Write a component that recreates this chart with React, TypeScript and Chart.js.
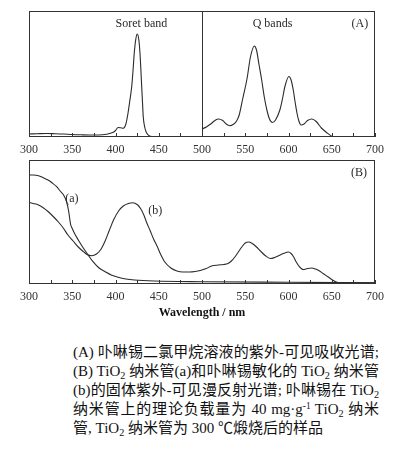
import React, { useEffect, useRef } from "react";
import { Chart, registerables } from "chart.js";

Chart.register(...registerables);

// ---------- data (wavelength in nm, absorbance in arbitrary units) ----------
const soretWl = [300, 310, 320, 330, 340, 350, 360, 370, 380, 390, 394, 398, 400, 403, 406, 409, 412, 414.5, 416.5, 418.7, 420.3, 421.7, 423.5, 425.2, 427, 428.3, 429.3, 430.3, 431.2, 432.1, 434, 436, 439, 442, 450, 470, 500];
const soretAbs = [0.03, 0.033, 0.035, 0.033, 0.03, 0.025, 0.022, 0.02, 0.02, 0.028, 0.037, 0.05, 0.065, 0.095, 0.092, 0.088, 0.13, 0.24, 0.36, 0.5, 0.67, 0.84, 0.98, 1.03, 0.97, 0.84, 0.68, 0.5, 0.35, 0.2, 0.09, 0.04, 0.012, 0.004, 0.002, 0.002, 0.002];

const qWl = [500, 505, 510, 515, 519, 524, 528, 532, 536, 540, 543, 547, 552, 556, 560.5, 563, 566, 569, 572, 575, 578, 581.5, 585, 590, 593, 596, 600.5, 603, 605.5, 608, 610, 612, 614.5, 618, 622, 627, 632, 638, 644, 650, 655, 670, 700];
const qAbs = [0.08, 0.1, 0.13, 0.165, 0.18, 0.165, 0.13, 0.113, 0.125, 0.16, 0.22, 0.38, 0.58, 0.8, 0.91, 0.87, 0.72, 0.57, 0.4, 0.27, 0.18, 0.145, 0.17, 0.27, 0.38, 0.51, 0.605, 0.57, 0.47, 0.33, 0.23, 0.16, 0.12, 0.13, 0.165, 0.18, 0.155, 0.09, 0.045, 0.008, 0.002, 0, 0];

const tubeWl = [300, 305, 311, 316, 322, 327, 332, 336, 340, 343.5, 346, 348, 350, 353, 357, 362, 367, 374, 381, 388, 395, 403, 412, 422, 445, 500, 600, 700];
const tubeAbs = [1.09, 1.09, 1.083, 1.065, 1.04, 1.01, 0.973, 0.93, 0.89, 0.82, 0.72, 0.6, 0.555, 0.5, 0.44, 0.37, 0.307, 0.223, 0.16, 0.123, 0.09, 0.067, 0.05, 0.04, 0.03, 0.023, 0.017, 0.012];

const sensWl = [300, 305, 311, 316, 322, 328, 334, 340, 345, 351, 357, 362, 367, 372.5, 378, 383, 388, 393, 398, 404, 409, 415, 420, 425, 429, 433, 436, 440, 444, 448, 452, 457, 464, 471, 478, 486, 492, 498, 505, 511, 519, 525, 530, 534, 538, 542, 546, 550, 554, 558, 563, 567, 573, 579, 584, 588, 594, 600, 603, 606, 609, 612, 617, 622, 627, 631, 635, 640, 646, 652, 657, 662, 700];
const sensAbs = [0.815, 0.805, 0.79, 0.765, 0.725, 0.675, 0.62, 0.555, 0.49, 0.43, 0.37, 0.33, 0.295, 0.283, 0.3, 0.345, 0.43, 0.54, 0.645, 0.735, 0.78, 0.805, 0.812, 0.795, 0.755, 0.685, 0.615, 0.535, 0.45, 0.38, 0.3, 0.22, 0.16, 0.13, 0.12, 0.12, 0.125, 0.135, 0.155, 0.18, 0.19, 0.195, 0.205, 0.23, 0.27, 0.32, 0.37, 0.41, 0.42, 0.405, 0.37, 0.335, 0.285, 0.255, 0.265, 0.28, 0.305, 0.32, 0.305, 0.27, 0.22, 0.18, 0.145, 0.155, 0.16, 0.15, 0.135, 0.105, 0.07, 0.035, 0.015, 0.013, 0.012];

const xMin = 300;
const xMax = 700;
const xMajor = 50;
const xMinor = 25;

const SERIF = '"Liberation Serif", "Times New Roman", serif';
const LINE = "#2b2b2b";
const AXIS = "#333";

const toPts = (xs: number[], ys: number[]) => xs.map((x, i) => ({ x, y: ys[i] }));

const framePlugin = {
  id: "frame",
  afterDatasetsDraw(chart: any, _args: any, opts: any) {
    const { ctx, chartArea: a, scales } = chart;
    const x = scales.x;
    const y = scales.y;
    ctx.save();
    ctx.strokeStyle = AXIS;
    ctx.lineWidth = 1;
    ctx.strokeRect(Math.round(a.left) + 0.5, Math.round(a.top) + 0.5, Math.round(a.width) - 1, Math.round(a.height) - 1);
    // inward ticks
    for (let v = xMin; v <= xMax; v += xMinor) {
      const px = Math.round(x.getPixelForValue(v)) + 0.5;
      ctx.beginPath();
      ctx.moveTo(px, a.bottom);
      ctx.lineTo(px, a.bottom - 4);
      ctx.stroke();
    }
    if (opts.divider != null) {
      const px = Math.round(x.getPixelForValue(opts.divider)) + 0.5;
      ctx.beginPath();
      ctx.moveTo(px, a.top);
      ctx.lineTo(px, a.bottom);
      ctx.stroke();
    }
    ctx.fillStyle = "#2a2a2a";
    ctx.font = `12px ${SERIF}`;
    ctx.textAlign = "center";
    ctx.textBaseline = "middle";
    (opts.labels || []).forEach((l: any) => {
      ctx.fillText(l.text, x.getPixelForValue(l.x), y.getPixelForValue(l.y));
    });
    ctx.restore();
  },
};

function makeX(height: number, title?: string) {
  return {
    type: "linear",
    min: xMin,
    max: xMax,
    grid: { display: false, drawTicks: false },
    border: { display: false },
    ticks: { stepSize: xMajor, padding: 6, color: AXIS, font: { family: SERIF, size: 12 }, autoSkip: false, maxRotation: 0 },
    title: title
      ? { display: true, text: title, padding: 0, color: "#111", font: { family: SERIF, size: 12, weight: "bold" } }
      : { display: false },
    afterFit: (s: any) => {
      s.height = height;
    },
  };
}

const lineDs = (pts: any[]) => ({
  data: pts,
  borderColor: LINE,
  borderWidth: 1.1,
  pointRadius: 0,
  fill: false,
  cubicInterpolationMode: "monotone",
});

export default function App() {
  const topRef = useRef<HTMLCanvasElement>(null);
  const botRef = useRef<HTMLCanvasElement>(null);

  useEffect(() => {
    const top = new Chart(topRef.current as HTMLCanvasElement, {
      type: "line",
      data: {
        datasets: [lineDs(toPts(soretWl, soretAbs)), lineDs(toPts(qWl, qAbs))] as any,
      },
      options: {
        responsive: false,
        animation: false,
        devicePixelRatio: 1,
        layout: { padding: { left: 29, right: 18, top: 11, bottom: 3 } },
        plugins: {
          legend: { display: false },
          tooltip: { enabled: false },
          frame: {
            divider: 500,
            labels: [
              { text: "Soret band", x: 430, y: 1.13 },
              { text: "Q bands", x: 581.5, y: 1.13 },
              { text: "(A)", x: 682.5, y: 1.13 },
            ],
          },
        } as any,
        scales: {
          x: makeX(20) as any,
          y: { display: false, min: 0, max: 1.26 },
        },
      },
      plugins: [framePlugin],
    });

    const bot = new Chart(botRef.current as HTMLCanvasElement, {
      type: "line",
      data: {
        datasets: [lineDs(toPts(tubeWl, tubeAbs)), lineDs(toPts(sensWl, sensAbs))] as any,
      },
      options: {
        responsive: false,
        animation: false,
        devicePixelRatio: 1,
        layout: { padding: { left: 29, right: 18, top: 10, bottom: 2 } },
        plugins: {
          legend: { display: false },
          tooltip: { enabled: false },
          frame: {
            labels: [
              { text: "(B)", x: 681.5, y: 1.107 },
              { text: "(a)", x: 349.5, y: 0.847 },
              { text: "(b)", x: 446, y: 0.733 },
            ],
          },
        } as any,
        scales: {
          x: makeX(36, "Wavelength / nm") as any,
          y: { display: false, min: 0, max: 1.24 },
        },
      },
      plugins: [framePlugin],
    });

    return () => {
      top.destroy();
      bot.destroy();
    };
  }, []);

  const lineBase: React.CSSProperties = {
    height: 19,
    lineHeight: "19px",
    whiteSpace: "nowrap",
    textAlign: "justify",
    textAlignLast: "justify" as any,
  };
  const sub: React.CSSProperties = { fontSize: "0.68em", verticalAlign: "-0.3em", lineHeight: 0 };
  const sup: React.CSSProperties = { fontSize: "0.62em", verticalAlign: "0.55em", lineHeight: 0 };

  return (
    <div style={{ position: "absolute", left: 0, top: 0, width: 393, height: 451, background: "#fff", overflow: "hidden" }}>
      <canvas ref={topRef} width={393} height={160} style={{ position: "absolute", left: 0, top: 0, width: 393, height: 160 }} />
      <canvas ref={botRef} width={393} height={172} style={{ position: "absolute", left: 0, top: 150, width: 393, height: 172 }} />
      <div
        style={{
          position: "absolute",
          left: 73,
          top: 343,
          width: 306,
          fontSize: 15,
          fontFamily: '"Liberation Serif", "Noto Sans CJK SC", serif',
          color: "#111",
        }}
      >
        <div style={lineBase}>(A) 卟啉锡二氯甲烷溶液的紫外-可见吸收光谱;</div>
        <div style={lineBase}>
          (B) TiO<sub style={sub}>2</sub> 纳米管(a)和卟啉锡敏化的 TiO<sub style={sub}>2</sub> 纳米管
        </div>
        <div style={lineBase}>
          (b)的固体紫外-可见漫反射光谱; 卟啉锡在 TiO<sub style={sub}>2</sub>
        </div>
        <div style={lineBase}>
          纳米管上的理论负载量为 40 mg·g<sup style={sup}>-1</sup> TiO<sub style={sub}>2</sub> 纳米
        </div>
        <div style={{ ...lineBase, textAlign: "left", textAlignLast: "left" as any }}>
          管, TiO<sub style={sub}>2</sub> 纳米管为 300 ℃煅烧后的样品
        </div>
      </div>
    </div>
  );
}
